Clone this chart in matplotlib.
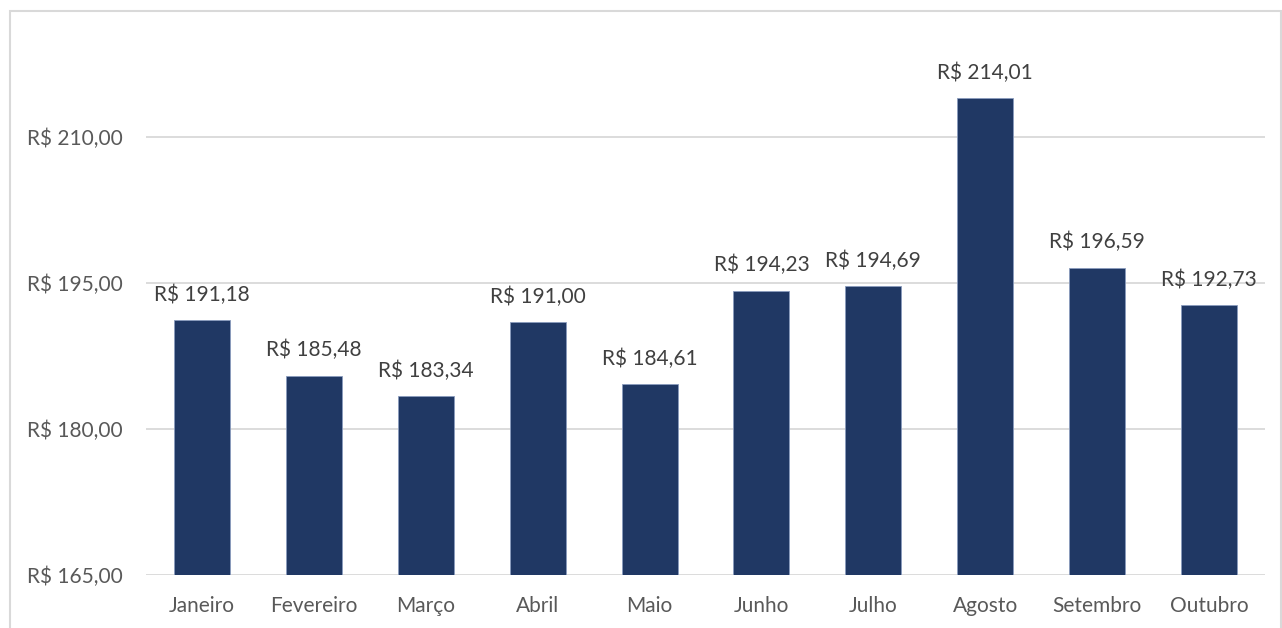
import matplotlib
matplotlib.use("Agg")
import matplotlib.pyplot as plt
from matplotlib.patches import Rectangle

# dados do gráfico
meses = ['Janeiro', 'Fevereiro', 'Março', 'Abril', 'Maio', 'Junho',
         'Julho', 'Agosto', 'Setembro', 'Outubro']
valores = [191.18, 185.48, 183.34, 191.00, 184.61, 194.23,
           194.69, 214.01, 196.59, 192.73]
yticks = [165, 180, 195, 210]


def brl(v):
    return 'R$ ' + f'{v:.2f}'.replace('.', ',')


plt.rcParams['font.family'] = ['Lato', 'DejaVu Sans']

W, H = 1282, 628
fig = plt.figure(figsize=(W / 100, H / 100), dpi=100)

# moldura do gráfico (estilo Excel)
fig.patches.append(Rectangle((9.5 / W, -0.05), (W - 11) / W, 1.05 - 10.5 / H,
                             transform=fig.transFigure, fill=False,
                             edgecolor='#d9d9d9', linewidth=1.5))

ax = fig.add_axes([146 / W, 53 / H, 1119 / W, 555 / H])
x = range(len(meses))
bars = ax.bar(x, valores, width=0.5, color='#203864', edgecolor='#8a9bbd',
              linewidth=0.6, zorder=3)
ax.bar_label(bars, labels=[brl(v) for v in valores], padding=11,
             fontsize=15, color='#404040')

ax.set_xlim(-0.5, len(meses) - 0.5)
ax.set_ylim(165, 165 + 555 / 9.733)
ax.set_yticks(yticks)
ax.set_yticklabels([brl(v) for v in yticks])
ax.set_xticks(list(x))
ax.set_xticklabels(meses)
ax.tick_params(axis='both', length=0, labelsize=15, labelcolor='#595959')
ax.tick_params(axis='y', pad=17)
ax.tick_params(axis='x', pad=15)
ax.grid(axis='y', color='#d9d9d9', linewidth=1.3, zorder=0)
for s in ax.spines.values():
    s.set_visible(False)

fig.savefig('out.png', dpi=100)
